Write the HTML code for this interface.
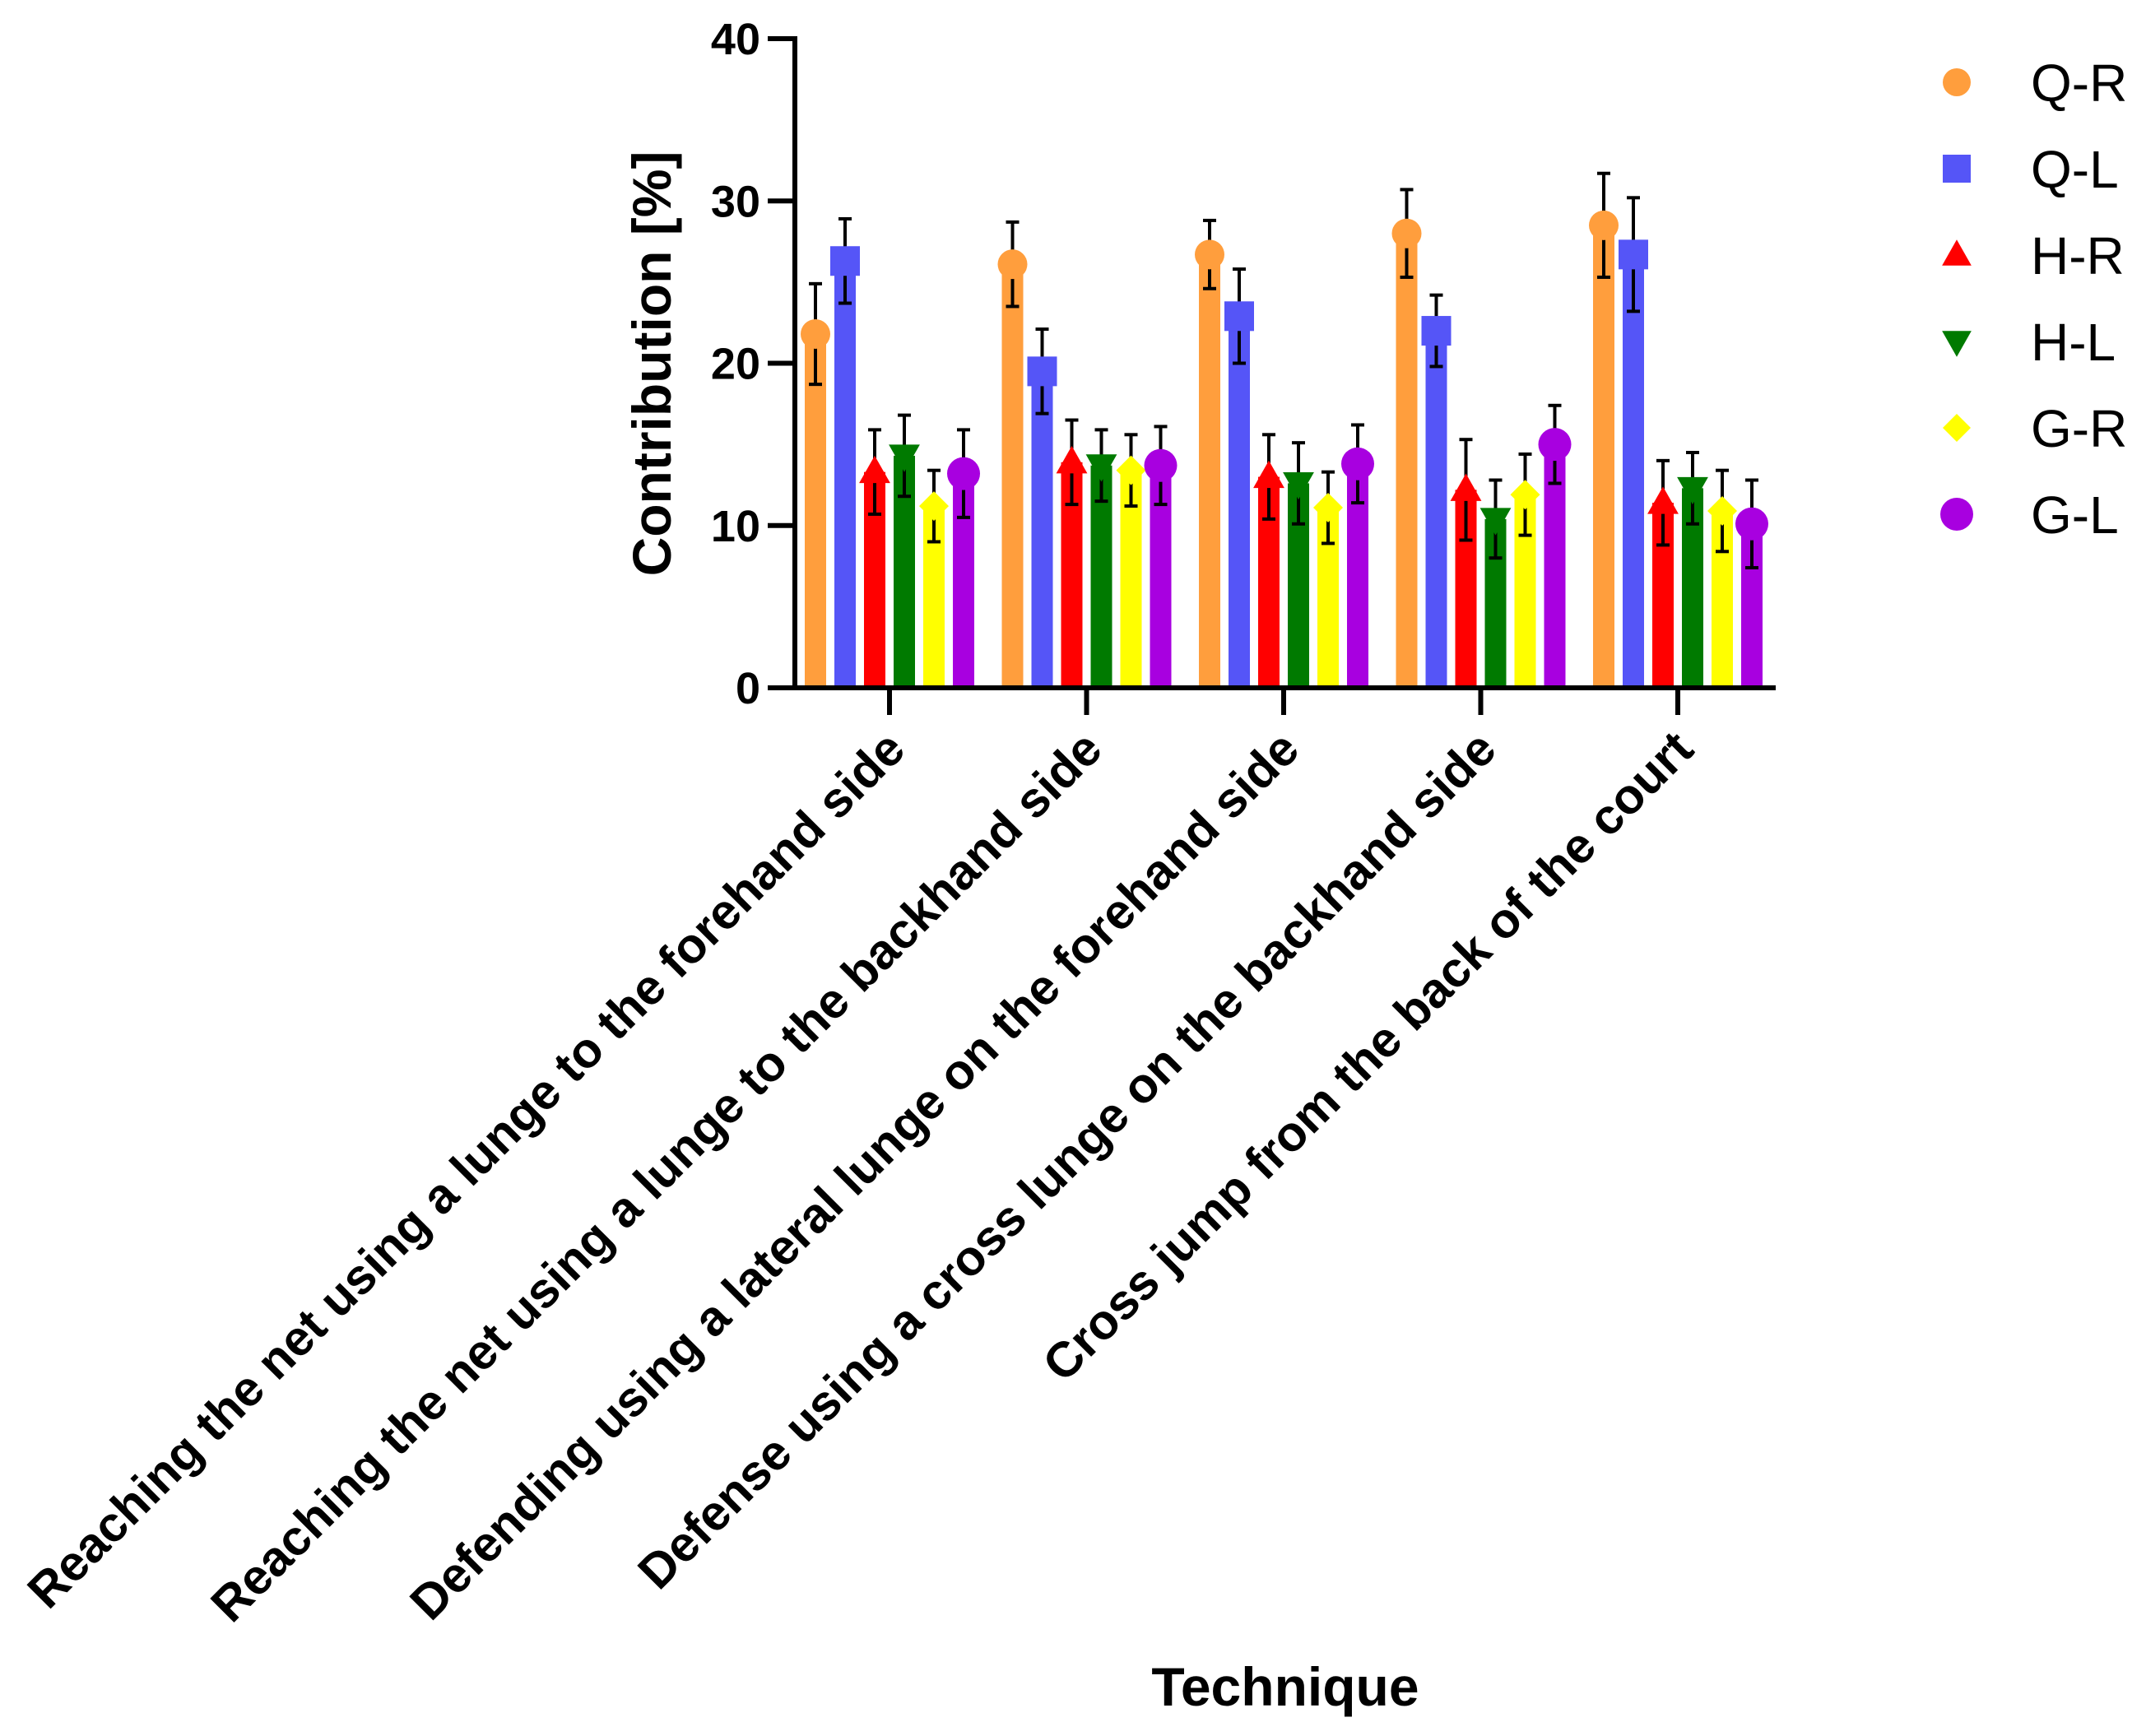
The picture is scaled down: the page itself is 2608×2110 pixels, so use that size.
<!DOCTYPE html>
<html><head><meta charset="utf-8"><style>
html,body{margin:0;padding:0;background:#fff;}
svg{display:block;font-family:"Liberation Sans",Arial,sans-serif;}
</style></head><body>
<svg id="chart" width="2608" height="2110" viewBox="0 0 2608 2110" xmlns="http://www.w3.org/2000/svg">
<g id="bars"></g>
<g id="axes"></g>
<g id="legend"></g>
</svg>
<script>
const categories = ["Reaching the net using a lunge to the forehand side","Reaching the net using a lunge to the backhand side","Defending using a lateral lunge on the forehand side","Defense using a cross lunge on the backhand side","Cross jump from the back of the court"];
const seriesNames = ["Q-R","Q-L","H-R","H-L","G-R","G-L"];
const seriesColors = ["#FF9E3D","#5555F7","#FF0000","#007A00","#FFFF00","#A800E0"];
const seriesShapes = ["circle","square","up","down","diamond","circle"];
const valQR = [21.8,26.1,26.7,28.0,28.5];
const valQL = [26.3,19.5,22.9,22.0,26.7];
const valHR = [13.3,13.9,13.0,12.2,11.4];
const valHL = [14.3,13.7,12.6,10.4,12.3];
const valGR = [11.2,13.4,11.1,11.9,10.9];
const valGL = [13.2,13.7,13.8,15.0,10.1];
const errQR = [3.1,2.6,2.1,2.7,3.2];
const errQL = [2.6,2.6,2.9,2.2,3.5];
const errHR = [2.6,2.6,2.6,3.1,2.6];
const errHL = [2.5,2.2,2.5,2.4,2.2];
const errGR = [2.2,2.2,2.2,2.5,2.5];
const errGL = [2.7,2.4,2.4,2.4,2.7];
const yTicks = [0,10,20,30,40];

const values=[valQR,valQL,valHR,valHL,valGR,valGL];
const errs=[errQR,errQL,errHR,errHL,errGR,errGL];
const NS="http://www.w3.org/2000/svg";
const X0=966, X1=2158, Y0=836, Y40=47;
function yScale(v){return Y0-(Y0-Y40)*v/40;}
function xGroup(i){return 1081+239.5*i;}
function xBar(i,s){return xGroup(i)+(s-2.5)*36;}
function mk(tag,attrs,parent){const e=document.createElementNS(NS,tag);for(const k in attrs)e.setAttribute(k,attrs[k]);parent.appendChild(e);return e;}
function marker(shape,cx,cy,r,color,parent){
  if(shape==="circle")return mk("circle",{cx:cx,cy:cy,r:r,fill:color},parent);
  if(shape==="square")return mk("rect",{x:cx-r,y:cy-r,width:2*r,height:2*r,fill:color},parent);
  if(shape==="up")return mk("polygon",{points:`${cx},${cy-r*1.1} ${cx+r*1.05},${cy+r*0.75} ${cx-r*1.05},${cy+r*0.75}`,fill:color},parent);
  if(shape==="down")return mk("polygon",{points:`${cx},${cy+r*1.1} ${cx+r*1.05},${cy-r*0.75} ${cx-r*1.05},${cy-r*0.75}`,fill:color},parent);
  return mk("polygon",{points:`${cx},${cy-r} ${cx+r},${cy} ${cx},${cy+r} ${cx-r},${cy}`,fill:color},parent);
}
const bars=document.getElementById("bars");
for(let s=0;s<6;s++){
  for(let i=0;i<5;i++){
    const g=mk("g",{},bars);
    
    
    const v=values[s][i], e=errs[s][i], cx=xBar(i,s), yv=yScale(v);
    mk("rect",{x:cx-13,y:yv,width:26,height:Y0-yv,fill:seriesColors[s]},g);
    const yt=yScale(v+e), yb=yScale(v-e);
    mk("line",{x1:cx,x2:cx,y1:yt,y2:yb,stroke:"#000","stroke-width":4},g);
    mk("line",{x1:cx-8,x2:cx+8,y1:yt,y2:yt,stroke:"#000","stroke-width":4},g);
    mk("line",{x1:cx-8,x2:cx+8,y1:yb,y2:yb,stroke:"#000","stroke-width":4},g);
    marker(seriesShapes[s],cx,yv,s===5?20:18,seriesColors[s],g);
  }
}
const axes=document.getElementById("axes");
const ya=mk("line",{x1:X0,x2:X0,y1:Y40-3,y2:Y0+3,stroke:"#000","stroke-width":6},axes);


const xa=mk("line",{x1:X0-3,x2:X1,y1:Y0,y2:Y0,stroke:"#000","stroke-width":6},axes);


yTicks.forEach(t=>{
  const y=yScale(t);
  mk("line",{x1:X0-33,x2:X0,y1:y,y2:y,stroke:"#000","stroke-width":6},axes);
  const tx=mk("text",{x:X0-42,y:y+19,"text-anchor":"end","font-size":54,"font-weight":"bold"},axes);
  tx.textContent=t;
  
  
});
categories.forEach((c,i)=>{
  const x=xGroup(i);
  mk("line",{x1:x,x2:x,y1:Y0,y2:Y0+33,stroke:"#000","stroke-width":6},axes);
  const tx=mk("text",{x:x+22,y:Y0+78,"text-anchor":"end","font-size":60,"font-weight":"bold",transform:`rotate(-45 ${x+22} ${Y0+78})`},axes);
  tx.textContent=c;
  
  
});
const yt=mk("text",{x:0,y:0,"text-anchor":"middle","font-size":66,"font-weight":"bold",transform:"translate(815 442) rotate(-90)"},axes);
yt.textContent="Contribution [%]";


const xt=mk("text",{x:1562,y:2073,"text-anchor":"middle","font-size":66,"font-weight":"bold"},axes);
xt.textContent="Technique";


const legend=document.getElementById("legend");
seriesNames.forEach((n,s)=>{
  const y=100+105*s;
  const g=mk("g",{},legend);
  
  
  marker(seriesShapes[s],2378,y,s===5?20:17,seriesColors[s],g);
  const t=mk("text",{x:2468,y:y+23,"font-size":64},g);
  t.textContent=n;
});
</script>
</body></html>
